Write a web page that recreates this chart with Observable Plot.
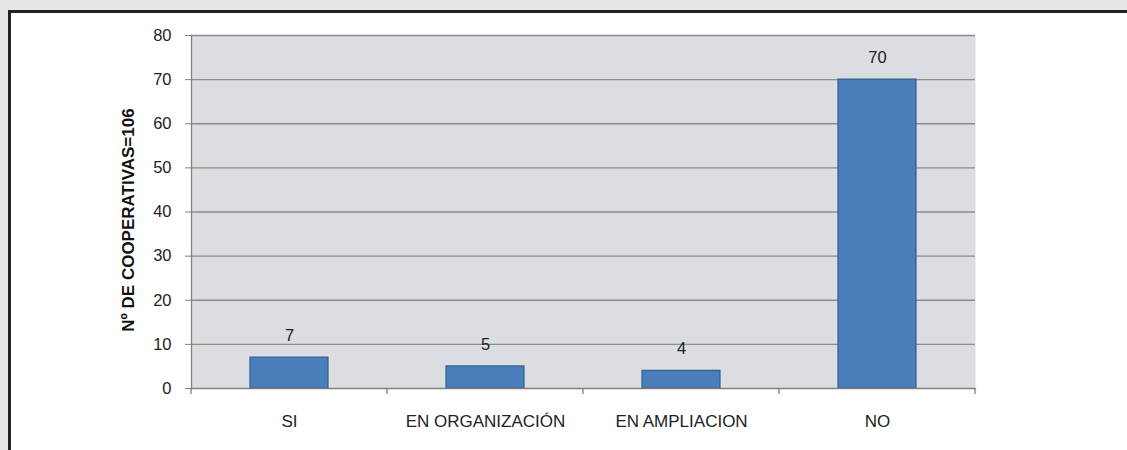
<!DOCTYPE html>
<html>
<head>
<meta charset="utf-8">
<script src="https://cdn.jsdelivr.net/npm/d3@7"></script>
<script src="https://cdn.jsdelivr.net/npm/@observablehq/plot@0.6"></script>
<style>
  html, body { margin: 0; padding: 0; }
  body { width: 1127px; height: 450px; background: #e6e7e9; position: relative; overflow: hidden; font-family: "Liberation Sans", Arial, sans-serif; }
  #frame { position: absolute; left: 8px; top: 10px; right: 0; bottom: 0; background: #fff; border-left: 3px solid #222; border-top: 3px solid #222; }
  #chart { position: absolute; left: 0; top: 0; }
</style>
</head>
<body>
<div id="frame"></div>
<div id="chart"></div>
<script>
const categories = ["SI", "EN ORGANIZACIÓN", "EN AMPLIACION", "NO"];
const values = [7, 5, 4, 70];
const yTicks = [0, 10, 20, 30, 40, 50, 60, 70, 80];
const yLabel = "Nº DE COOPERATIVAS=106";

const data = categories.map((c, i) => ({cat: c, val: values[i]}));

// tick marks at category boundaries on the x axis
function boundaryTicks() {
  return (index, scales, values, dims) => {
    const g = d3.create("svg:g");
    const bw = scales.x.bandwidth ? scales.x.bandwidth() : 0;
    const step = scales.x.step ? scales.x.step() : bw;
    const y0 = scales.y(0);
    const xs = categories.map(c => scales.x(c) - (step - bw) / 2);
    xs.push(scales.x(categories[categories.length - 1]) + bw + (step - bw) / 2);
    for (const x of xs) {
      g.append("line").attr("x1", x).attr("x2", x).attr("y1", y0).attr("y2", y0 + 6)
        .attr("stroke", "#808080").attr("stroke-width", 1.3);
    }
    return g.node();
  };
}

const plot = Plot.plot({
  width: 1127,
  height: 450,
  marginLeft: 191,
  marginRight: 152,
  marginTop: 35,
  marginBottom: 62,
  style: {background: "transparent", fontFamily: "'Liberation Sans', Arial, sans-serif", fontSize: "16px", color: "#222"},
  x: {domain: categories, paddingInner: 0.6, paddingOuter: 0.3, align: 0.5, label: null},
  y: {domain: [0, 80], label: null},
  marks: [
    Plot.frame({fill: "#dcdde0", stroke: null}),
    Plot.ruleY(yTicks.filter(d => d > 0), {stroke: "#8c8c8c", strokeWidth: 1.3}),
    Plot.barY(data, {x: "cat", y: "val", fill: "#4a7ebb", stroke: "#2f5e93", strokeWidth: 1.2}),
    Plot.text(data, {x: "cat", y: "val", text: d => String(d.val), dy: -22, fontSize: 16.5, fill: "#222"}),
    Plot.frame({anchor: "left", stroke: "#808080", strokeWidth: 1.3}),
    Plot.frame({anchor: "bottom", stroke: "#808080", strokeWidth: 1.3}),
    Plot.axisY({ticks: yTicks, tickSize: 6, tickPadding: 14, tickFormat: d => String(d), stroke: "#808080", fontSize: 16.5, label: null}),
    Plot.axisX({tickSize: 0, tickPadding: 26, fontSize: 17, label: null}),
    boundaryTicks(),
    Plot.text([yLabel], {frameAnchor: "left", textAnchor: "middle", rotate: -90, dx: -63, dy: 8, fontWeight: "bold", fontSize: 17, text: d => d, fill: "#111", lineAnchor: "middle"})
  ]
});
document.getElementById("chart").appendChild(plot);
</script>
</body>
</html>
